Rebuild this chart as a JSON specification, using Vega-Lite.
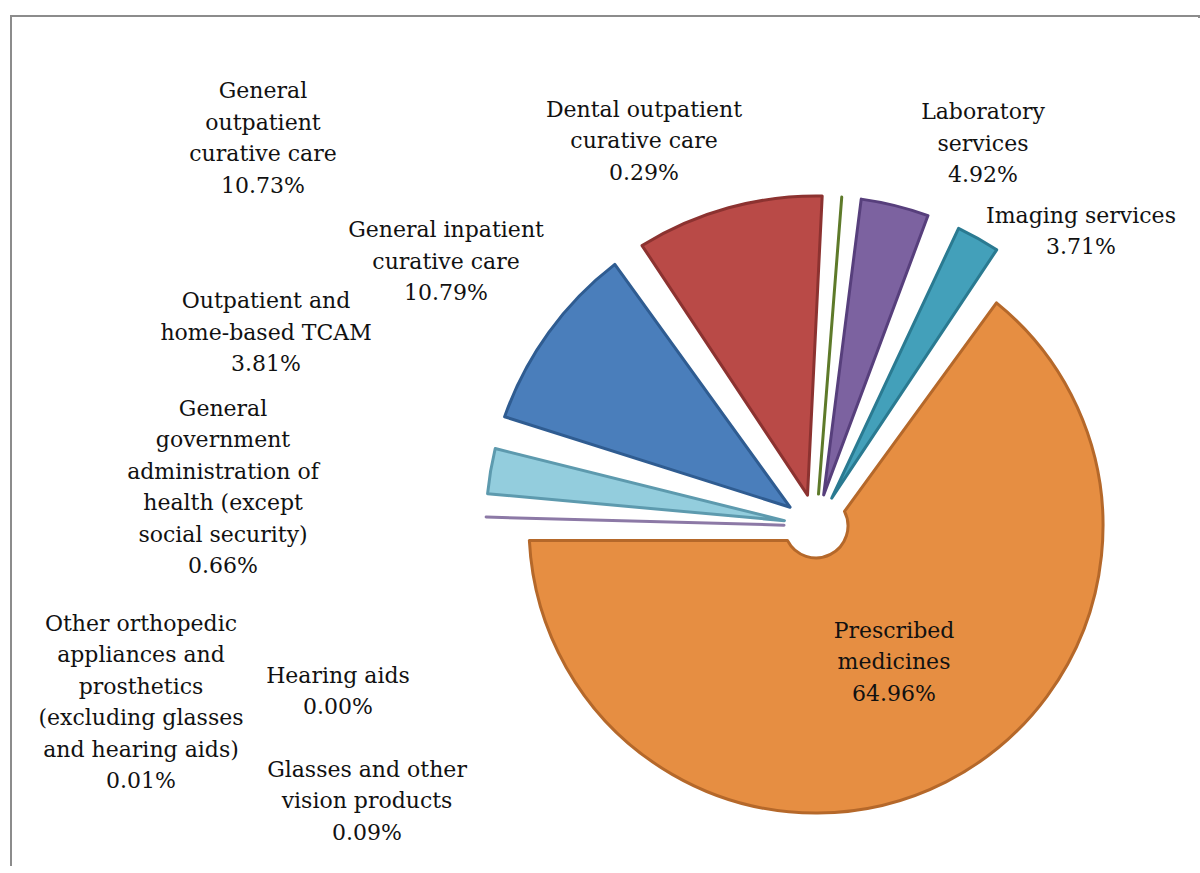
{
  "$schema": "https://vega.github.io/schema/vega-lite/v6.json",
  "width": 1200,
  "height": 873,
  "autosize": {"type": "fit", "contains": "padding"},
  "padding": {"left": 10, "top": 15, "right": 0, "bottom": 0},
  "background": "white",
  "config": {"view": {"stroke": null}},
  "data": {
    "values": [
      {"category": "Prescribed medicines", "pct": 64.96, "order": 1, "label": "Prescribed\nmedicines\n64.96%"},
      {"category": "Glasses and other vision products", "pct": 0.09, "order": 2, "label": "Glasses and other\nvision products\n0.09%"},
      {"category": "Hearing aids", "pct": 0.0, "order": 3, "label": "Hearing aids\n0.00%"},
      {"category": "Other orthopedic appliances and prosthetics (excluding glasses and hearing aids)", "pct": 0.01, "order": 4, "label": "Other orthopedic\nappliances and\nprosthetics\n(excluding glasses\nand hearing aids)\n0.01%"},
      {"category": "General government administration of health (except social security)", "pct": 0.66, "order": 5, "label": "General\ngovernment\nadministration of\nhealth (except\nsocial security)\n0.66%"},
      {"category": "Outpatient and home-based TCAM", "pct": 3.81, "order": 6, "label": "Outpatient and\nhome-based TCAM\n3.81%"},
      {"category": "General inpatient curative care", "pct": 10.79, "order": 7, "label": "General inpatient\ncurative care\n10.79%"},
      {"category": "General outpatient curative care", "pct": 10.73, "order": 8, "label": "General\noutpatient\ncurative care\n10.73%"},
      {"category": "Dental outpatient curative care", "pct": 0.29, "order": 9, "label": "Dental outpatient\ncurative care\n0.29%"},
      {"category": "Laboratory services", "pct": 4.92, "order": 10, "label": "Laboratory\nservices\n4.92%"},
      {"category": "Imaging services", "pct": 3.71, "order": 11, "label": "Imaging services\n3.71%"}
    ]
  },
  "layer": [
    {
      "data": {"values": [{}]},
      "mark": {"type": "rect", "fill": "transparent", "stroke": "#8c8c8c", "strokeWidth": 2, "strokeDash": [1190, 2048, 858, 0]},
      "encoding": {
        "x": {"value": 0},
        "x2": {"value": "width"},
        "y": {"value": 0},
        "y2": {"value": "height"}
      }
    },
    {
      "transform": [
        {"stack": "pct", "groupby": [], "sort": [{"field": "order", "order": "ascending"}], "as": ["t0", "t1"]}
      ],
      "mark": {"type": "arc", "innerRadius": 32, "padAngle": 0.1, "strokeWidth": 3, "strokeJoin": "round", "x": 805, "y": 510},
      "encoding": {
        "theta": {"field": "t0", "type": "quantitative", "scale": {"domain": [0, 99.97], "range": [0.6296, 6.9128], "zero": false, "nice": false}},
        "theta2": {"field": "t1"},
        "radius": {"field": "order", "type": "quantitative", "scale": {"type": "linear", "zero": false, "nice": false, "domain": [1, 2, 11], "range": [287, 330, 330]}},
        "fill": {
          "field": "category", "type": "nominal", "legend": null,
          "scale": {
            "domain": ["Prescribed medicines", "Glasses and other vision products", "Hearing aids", "Other orthopedic appliances and prosthetics (excluding glasses and hearing aids)", "General government administration of health (except social security)", "Outpatient and home-based TCAM", "General inpatient curative care", "General outpatient curative care", "Dental outpatient curative care", "Laboratory services", "Imaging services"],
            "range": ["#E68E42", "#F2B27E", "#A8C1E0", "#D49A98", "#B3A2C7", "#93CDDD", "#4A7EBB", "#B94A47", "#9BBB59", "#7C62A0", "#43A0BA"]
          }
        },
        "stroke": {
          "field": "category", "type": "nominal", "legend": null,
          "scale": {
            "domain": ["Prescribed medicines", "Glasses and other vision products", "Hearing aids", "Other orthopedic appliances and prosthetics (excluding glasses and hearing aids)", "General government administration of health (except social security)", "Outpatient and home-based TCAM", "General inpatient curative care", "General outpatient curative care", "Dental outpatient curative care", "Laboratory services", "Imaging services"],
            "range": ["#B5682A", "transparent", "transparent", "transparent", "#8C79A6", "#5D9AAE", "#2F5C91", "#8C3230", "#5E7A2A", "#573F7C", "#2A7A91"]
          }
        }
      }
    },
    {
      "mark": {"type": "text", "x": 805, "y": 510, "align": "center", "baseline": "middle", "lineBreak": "\n", "lineHeight": 31.5, "font": "DejaVu Serif", "fontSize": 22, "color": "#111111"},
      "encoding": {
        "theta": {"field": "order", "type": "quantitative", "scale": {"type": "linear", "zero": false, "nice": false, "domain": [1, 2, 3, 4, 5, 6, 7, 8, 9, 10, 11], "range": [2.5026, 4.2146, 4.4084, 4.5683, 4.9072, 5.1007, 5.3871, 5.3789, 5.8912, 0.3834, 0.7072]}},
        "radius": {"field": "order", "type": "quantitative", "scale": {"type": "linear", "zero": false, "nice": false, "domain": [1, 2, 3, 4, 5, 6, 7, 8, 9, 10, 11], "range": [130.8, 511.0, 501.0, 682.1, 604.4, 594.2, 473.8, 703.6, 450.2, 446.4, 407.8]}},
        "text": {"field": "label", "type": "nominal"}
      }
    }
  ],
  "resolve": {"scale": {"theta": "independent", "radius": "independent"}}
}
